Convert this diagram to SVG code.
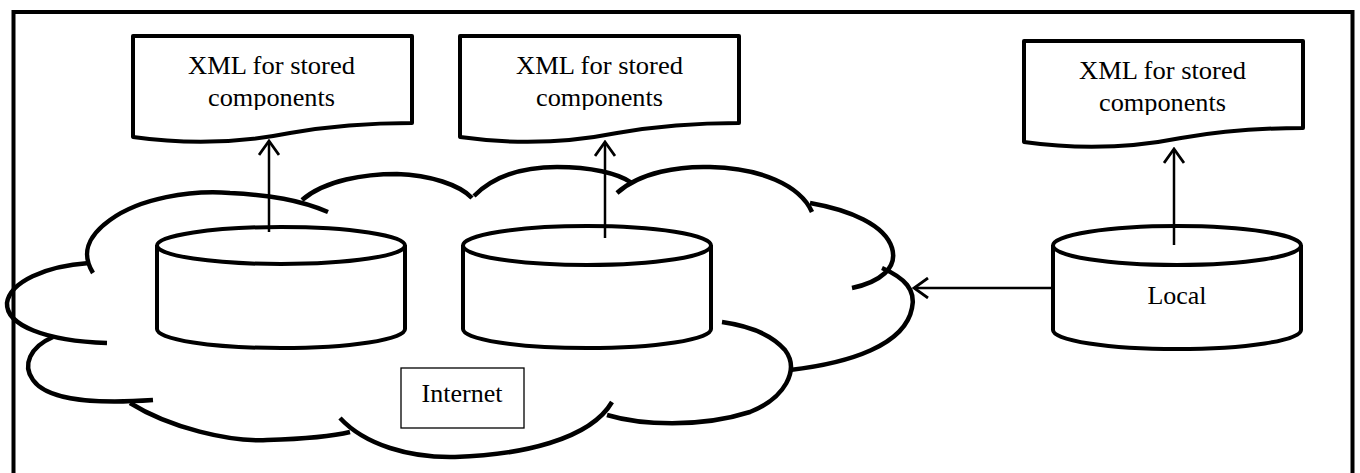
<svg xmlns="http://www.w3.org/2000/svg" width="1360" height="473" viewBox="0 0 1360 473">
  <defs>
    <style>
      .frame { fill: none; stroke: #000; stroke-width: 4; }
      .doc { fill: #fff; stroke: #000; stroke-width: 4; stroke-linejoin: round; }
      .cyl { fill: #fff; stroke: #000; stroke-width: 4; }
      .lobe { fill: none; stroke: #000; stroke-width: 4.5; stroke-linecap: butt; }
      .conn { fill: none; stroke: #000; stroke-width: 2.5; }
      .label { font-family: "Liberation Serif", "Times New Roman", serif; fill: #000; text-anchor: middle; }
      .doc-text { font-size: 26px; }
      .big-text { font-size: 26px; }
    </style>
    <marker id="open-arrow" viewBox="-16 -11 18 22" markerWidth="18" markerHeight="22" refX="0" refY="0" orient="auto" markerUnits="userSpaceOnUse">
      <path d="M -14 -10 L 0 0 L -14 10" fill="none" stroke="#000" stroke-width="2.8"/>
    </marker>
    <!-- text area of a document shape; the second line is cut at its lower edge -->
    <clipPath id="doc-text-area">
      <rect x="133" y="36" width="279" height="74"/>
    </clipPath>
  </defs>

  <rect width="1360" height="473" fill="#fff"/>

  <!-- outer frame (open at the bottom edge of the page) -->
  <rect class="frame" x="13.5" y="12" width="1339" height="500"/>

  <!-- Internet cloud, drawn as separate lobes with their overlapping tails -->
  <g id="internet-cloud">
    <path class="lobe" d="M 89 263 C 45 266, 10 282, 7 303 C 6 325, 45 341, 107 343"/>
    <path class="lobe" d="M 93 273 C 82 255, 85 238, 110 220 C 140 198, 190 190, 230 193 C 270 195, 300 200, 328 212"/>
    <path class="lobe" d="M 302 200 C 325 180, 365 174, 397 174 C 430 175, 460 185, 472 198"/>
    <path class="lobe" d="M 474 196 C 495 175, 525 167, 557 167 C 590 167, 618 173, 632 183"/>
    <path class="lobe" d="M 617 193 C 640 172, 680 166, 710 167 C 760 168, 800 185, 812 212"/>
    <path class="lobe" d="M 810 203 C 850 210, 885 225, 892 248 C 898 268, 880 282, 852 288"/>
    <path class="lobe" d="M 790 370 C 850 363, 905 345, 912 308 C 916 290, 905 278, 882 268"/>
    <path class="lobe" d="M 607 415 C 640 425, 700 428, 750 412 C 785 398, 800 370, 785 350 C 772 335, 750 326, 722 322"/>
    <path class="lobe" d="M 340 418 C 365 445, 410 458, 455 457 C 520 455, 590 440, 612 402"/>
    <path class="lobe" d="M 130 403 C 170 428, 230 442, 267 440 C 300 439, 330 437, 350 432"/>
    <path class="lobe" d="M 53 337 C 30 347, 22 365, 33 380 C 45 397, 80 405, 153 400"/>
    <g id="internet-label">
      <rect x="401" y="368" width="123" height="60" fill="#fff" stroke="#000" stroke-width="1.3"/>
      <text class="label big-text" x="462" y="402">Internet</text>
    </g>
  </g>

  <!-- stored-component documents -->
  <g id="doc-1">
    <path class="doc" d="M 133 36 H 412 V 123 C 370 123, 330 126, 290 133 C 245 142, 190 145, 133 137 Z"/>
    <g clip-path="url(#doc-text-area)">
      <text class="label doc-text" x="271.5" y="74" textLength="167" lengthAdjust="spacingAndGlyphs">XML for stored</text>
      <text class="label doc-text" x="271.5" y="106" textLength="127" lengthAdjust="spacingAndGlyphs">components</text>
    </g>
  </g>
  <g id="doc-2" transform="translate(327,0)">
    <path class="doc" d="M 133 36 H 412 V 123 C 370 123, 330 126, 290 133 C 245 142, 190 145, 133 137 Z"/>
    <g clip-path="url(#doc-text-area)">
      <text class="label doc-text" x="272.5" y="74" textLength="167" lengthAdjust="spacingAndGlyphs">XML for stored</text>
      <text class="label doc-text" x="272.5" y="106" textLength="127" lengthAdjust="spacingAndGlyphs">components</text>
    </g>
  </g>
  <g id="doc-3" transform="translate(891,5)">
    <path class="doc" d="M 133 36 H 412 V 123 C 370 123, 330 126, 290 133 C 245 142, 190 145, 133 137 Z"/>
    <g clip-path="url(#doc-text-area)">
      <text class="label doc-text" x="271.5" y="74" textLength="167" lengthAdjust="spacingAndGlyphs">XML for stored</text>
      <text class="label doc-text" x="271.5" y="106" textLength="127" lengthAdjust="spacingAndGlyphs">components</text>
    </g>
  </g>

  <!-- databases -->
  <g id="db-1">
    <path class="cyl" d="M 157 245 V 329 A 124 19 0 0 0 405 329 V 245"/>
    <ellipse class="cyl" cx="281" cy="245.5" rx="124" ry="18.5"/>
  </g>
  <g id="db-2">
    <path class="cyl" d="M 463 245 V 329 A 124 19 0 0 0 711 329 V 245"/>
    <ellipse class="cyl" cx="587" cy="245.5" rx="124" ry="19.5"/>
  </g>
  <g id="db-local">
    <path class="cyl" d="M 1053 245 V 330 A 124 19 0 0 0 1301 330 V 245"/>
    <ellipse class="cyl" cx="1177" cy="245.5" rx="124" ry="19.5"/>
    <text class="label big-text" x="1177" y="304">Local</text>
  </g>

  <!-- connectors -->
  <g id="connectors">
    <line class="conn" x1="269" y1="232" x2="269" y2="141" marker-end="url(#open-arrow)"/>
    <line class="conn" x1="605" y1="238" x2="605" y2="142" marker-end="url(#open-arrow)"/>
    <line class="conn" x1="1174" y1="245" x2="1174" y2="149" marker-end="url(#open-arrow)"/>
    <line class="conn" x1="1053" y1="288" x2="914" y2="288" marker-end="url(#open-arrow)"/>
  </g>
</svg>
